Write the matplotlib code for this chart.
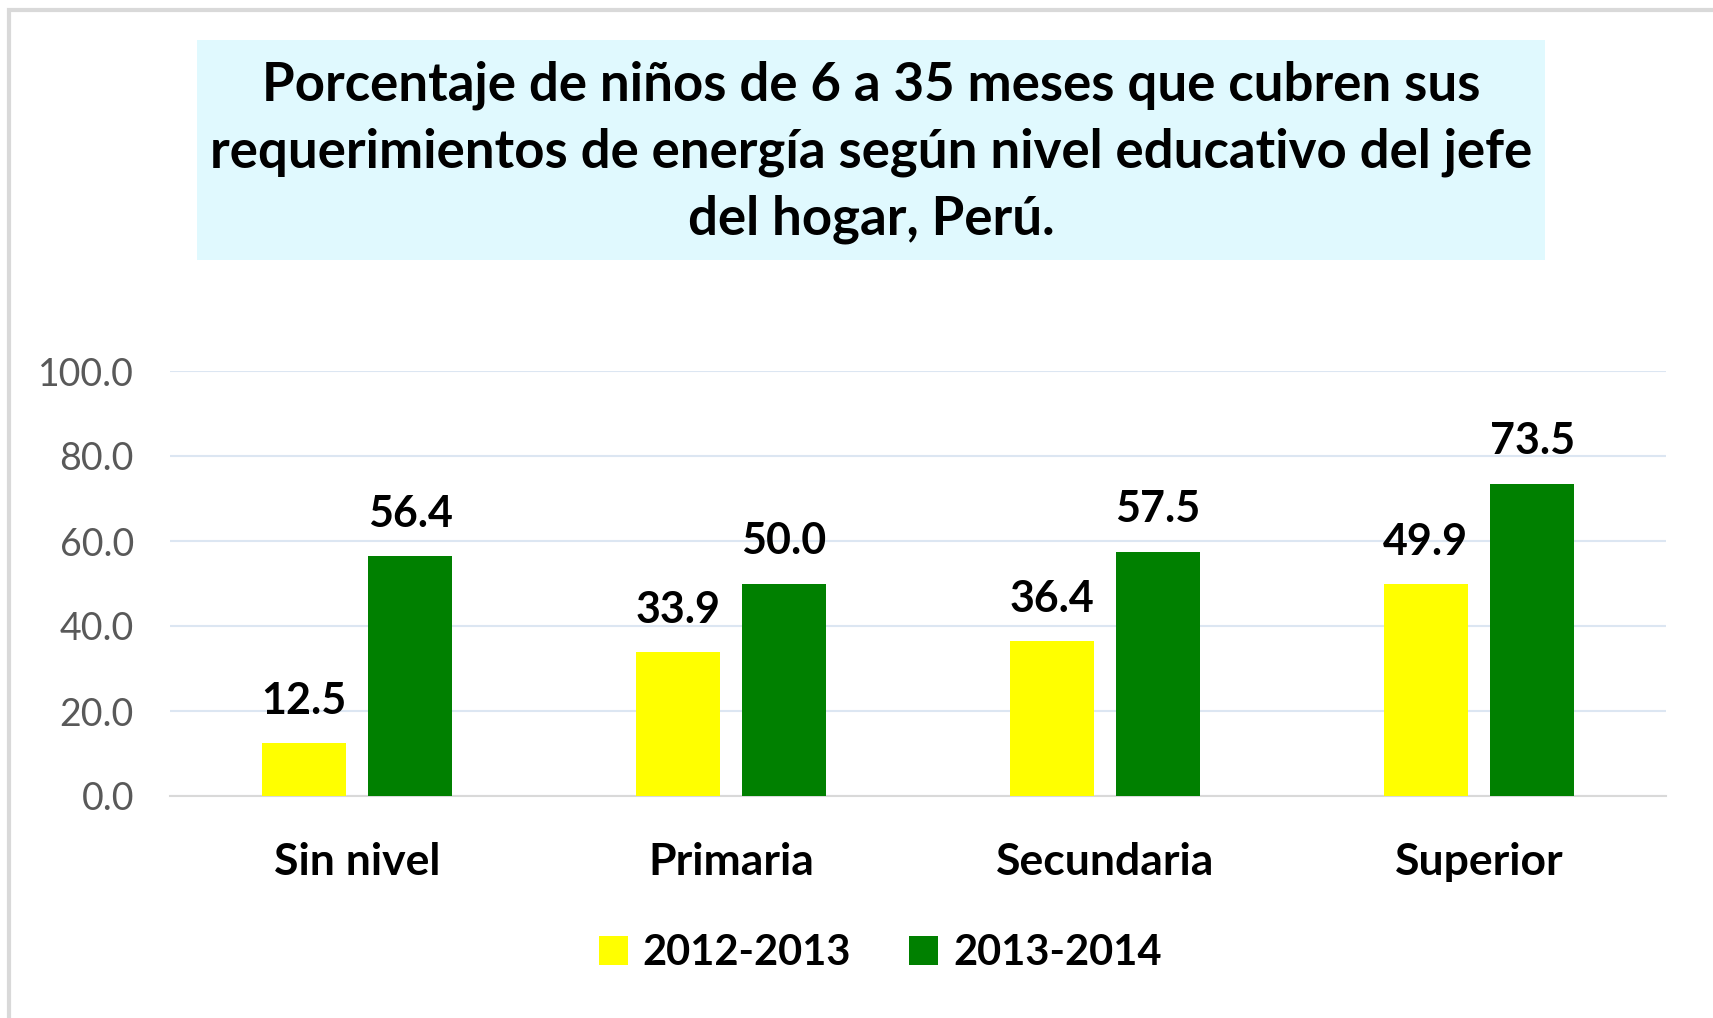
import matplotlib
matplotlib.use('Agg')
from matplotlib import pyplot as plt
import matplotlib.patches as mpatches
import numpy as np

categories = ['Sin nivel', 'Primaria', 'Secundaria', 'Superior']
series_names = ['2012-2013', '2013-2014']
values_2012 = [12.5, 33.9, 36.4, 49.9]
values_2013 = [56.4, 50.0, 57.5, 73.5]
yticks = [0, 20, 40, 60, 80, 100]

title = ('Porcentaje de niños de 6 a 35 meses que cubren sus\n'
         'requerimientos de energía según nivel educativo del jefe\n'
         'del hogar, Perú.')

plt.rcParams['font.family'] = ['Lato', 'DejaVu Sans']

W, H = 1713, 1018
fig = plt.figure(figsize=(W / 100, H / 100), dpi=100)

# outer frame (top and left edges visible)
fig.add_artist(mpatches.Rectangle((9 / W, -0.05), 1.2, 1 - 10 / H + 0.05,
                                  transform=fig.transFigure, fill=False,
                                  edgecolor='#d9d9d9', lw=3))

# title box
fig.add_artist(mpatches.Rectangle((197 / W, 1 - 260 / H), (1545 - 197) / W, (260 - 40) / H,
                                  transform=fig.transFigure, facecolor='#e0f9fe',
                                  edgecolor='none'))
fig.text(871 / W, 1 - 152 / H, title, ha='center', va='center', fontsize=38,
         fontweight='bold', linespacing=1.44, color='black')

ax = fig.add_axes([170 / W, 222 / H, (1666 - 170) / W, (796 - 371) / H])
x = np.arange(len(categories))
w = 0.225
off = 0.142
b1 = ax.bar(x - off, values_2012, w, color='#ffff00', label=series_names[0], zorder=3)
b2 = ax.bar(x + off, values_2013, w, color='#008000', label=series_names[1], zorder=3)

for bars, vals in ((b1, values_2012), (b2, values_2013)):
    for rect, v in zip(bars, vals):
        ax.annotate(f'{v:.1f}', (rect.get_x() + rect.get_width() / 2, v),
                    xytext=(0, 16), textcoords='offset points', ha='center', va='bottom',
                    fontsize=31, fontweight='bold', color='black')

ax.set_xlim(-0.5, len(categories) - 0.5)
ax.set_ylim(0, 100)
ax.set_yticks(yticks)
ax.set_yticklabels([f'{t:.1f}' for t in yticks], fontsize=27, color='#595959')
ax.set_xticks(x)
ax.set_xticklabels(categories, fontsize=32, fontweight='bold', color='black')
ax.tick_params(axis='both', length=0)
ax.tick_params(axis='y', pad=26)
ax.tick_params(axis='x', pad=33)
ax.grid(axis='y', color='#dce6f2', lw=1.5, zorder=0)
for s in ['top', 'right', 'left']:
    ax.spines[s].set_visible(False)
ax.spines['bottom'].set_color('#d9d9d9')
ax.spines['bottom'].set_linewidth(1.5)

ax.legend(loc='center', bbox_to_anchor=((880 - 170) / 1496, (1018 - 953 - 222) / 425), ncol=2,
          frameon=False, prop={'size': 30, 'weight': 'bold'}, handlelength=0.7,
          handleheight=0.7, handletextpad=0.35, columnspacing=1.4)

fig.savefig('out.png', dpi=100, facecolor='white')
